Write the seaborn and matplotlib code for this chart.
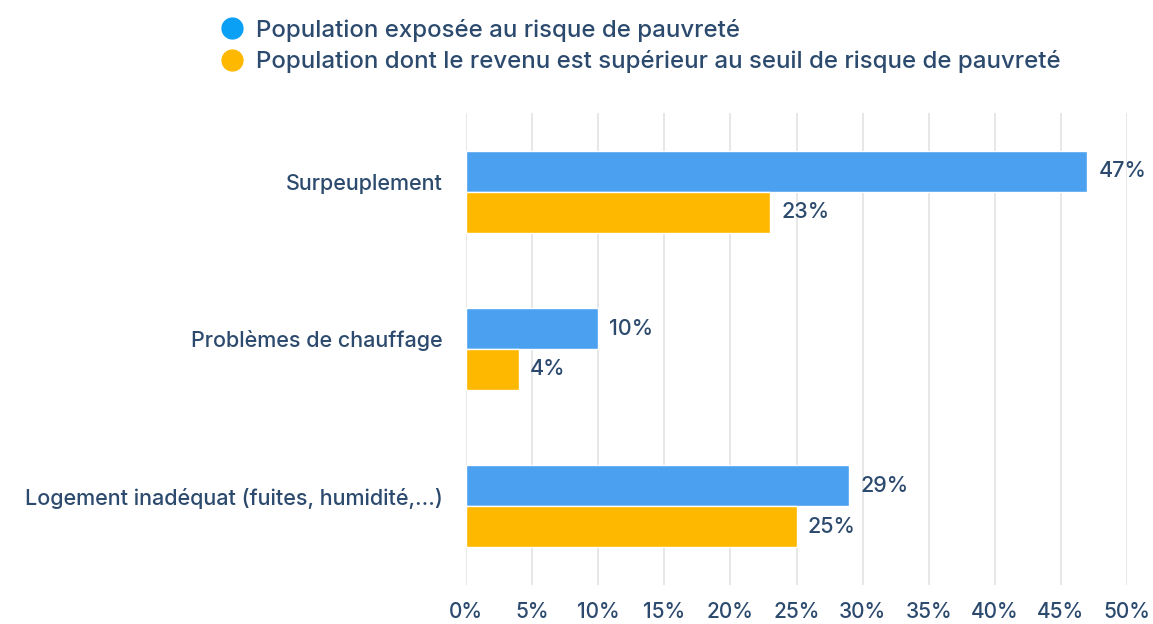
import pandas as pd
import matplotlib.pyplot as plt
import matplotlib.transforms as mtransforms
import seaborn as sns
from matplotlib.lines import Line2D

sns.set_theme(style="white")
plt.rcParams["font.family"] = ["Inter", "DejaVu Sans"]
plt.rcParams["font.weight"] = "medium"

TEXT = "#2c4a6e"

# DATA
categories = ["Surpeuplement", "Problèmes de chauffage",
              "Logement inadéquat (fuites, humidité,...)"]
series = ["Population exposée au risque de pauvreté",
          "Population dont le revenu est supérieur au seuil de risque de pauvreté"]
poor = [47, 10, 29]
above = [23, 4, 25]
ticks = [0, 5, 10, 15, 20, 25, 30, 35, 40, 45, 50]

bar_colors = ["#4ba0ef", "#ffb800"]
legend_colors = ["#0aa0f5", "#ffb800"]

df = pd.DataFrame({
    "cat": categories * 2,
    "serie": [series[0]] * 3 + [series[1]] * 3,
    "val": poor + above,
})

fig = plt.figure(figsize=(11.53, 6.24), dpi=100)
ax = fig.add_axes([0.4042, 0.0625, 0.5733, 0.7565])

sns.barplot(data=df, y="cat", x="val", hue="serie", orient="h",
            palette=bar_colors, width=0.52, saturation=1, legend=False, ax=ax)

for cont in ax.containers:
    ax.bar_label(cont, fmt="{:.0f}%", padding=8, fontsize=15.5, color=TEXT)

ax.set_xlim(0, 50)
ax.set_ylim(2.5, -0.5)
ax.set_xticks(ticks)
ax.set_xticklabels([f"{t}%" for t in ticks])
ax.set_xlabel("")
ax.set_ylabel("")
ax.tick_params(axis="x", length=0, pad=12, labelsize=15, labelcolor=TEXT)
ax.tick_params(axis="y", length=0, pad=17, labelsize=15.5, labelcolor=TEXT)
ax.grid(axis="x", color="#e3e3e3", linewidth=1.2)
ax.set_axisbelow(True)
for s in ax.spines.values():
    s.set_visible(False)

# category labels sit a bit above the bar pair centre
shift = mtransforms.ScaledTranslation(0, 10 / 100, fig.dpi_scale_trans)
for lab in ax.get_yticklabels():
    lab.set_transform(lab.get_transform() + shift)

handles = [Line2D([], [], marker="o", linestyle="", markersize=15,
                  markerfacecolor=c, markeredgecolor=c) for c in legend_colors]
fig.legend(handles, series, loc="upper left", bbox_to_anchor=(0.172, 1.005),
           frameon=False, fontsize=17.3, labelcolor=TEXT,
           handletextpad=0.5, labelspacing=0.35, handlelength=1.0)

plt.savefig("out.png", dpi=100)
